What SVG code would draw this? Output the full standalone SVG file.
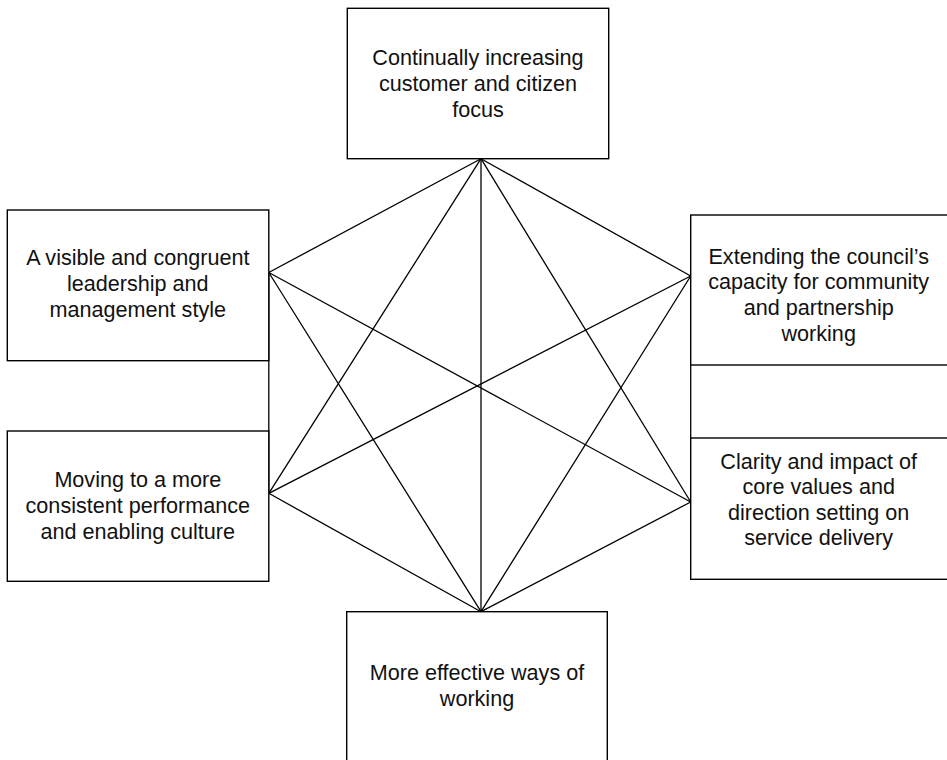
<svg xmlns="http://www.w3.org/2000/svg" width="947" height="760" viewBox="0 0 947 760">
<style>
.box{fill:#fff;stroke:#000;stroke-width:1.4}
.conn line{stroke:#000;stroke-width:1.3}
text{font-family:"Liberation Sans",Arial,Helvetica,sans-serif;font-size:21.6px;fill:#111;text-anchor:middle}
</style>
<rect width="947" height="760" fill="#fff"/>
<g id="connectors" class="conn">
<line x1="481" y1="158.7" x2="268.8" y2="272.5"/>
<line x1="481" y1="158.7" x2="690.7" y2="276"/>
<line x1="481" y1="158.7" x2="268.8" y2="493.3"/>
<line x1="481" y1="158.7" x2="690.7" y2="502"/>
<line x1="481" y1="158.7" x2="481" y2="611.7"/>
<line x1="268.8" y1="272.5" x2="481" y2="611.7"/>
<line x1="268.8" y1="272.5" x2="690.7" y2="502"/>
<line x1="268.8" y1="493.3" x2="481" y2="611.7"/>
<line x1="268.8" y1="493.3" x2="690.7" y2="276"/>
<line x1="690.7" y1="276" x2="481" y2="611.7"/>
<line x1="690.7" y1="502" x2="481" y2="611.7"/>
<line x1="268.8" y1="272.5" x2="268.8" y2="493.3"/>
<line x1="690.7" y1="276" x2="690.7" y2="502"/>
</g>
<g id="node-top">
<rect class="box" x="347.3" y="8.3" width="261.4" height="150.4"/>
<text x="478" y="65">Continually increasing</text>
<text x="478" y="91">customer and citizen</text>
<text x="478" y="116.7">focus</text>
</g>
<g id="node-left-upper">
<rect class="box" x="7.3" y="210" width="261.5" height="150.7"/>
<text x="137.8" y="265">A visible and congruent</text>
<text x="137.8" y="291">leadership and</text>
<text x="137.8" y="316.7">management style</text>
</g>
<g id="node-left-lower">
<rect class="box" x="7.3" y="431" width="261.5" height="150.3"/>
<text x="137.8" y="487">Moving to a more</text>
<text x="137.8" y="513">consistent performance</text>
<text x="137.8" y="538.5">and enabling culture</text>
</g>
<g id="node-right-upper">
<rect class="box" x="690.7" y="215" width="260" height="150"/>
<text x="818.7" y="263.5">Extending the council’s</text>
<text x="818.7" y="289.3">capacity for community</text>
<text x="818.7" y="315">and partnership</text>
<text x="818.7" y="340.5">working</text>
</g>
<g id="node-right-lower">
<rect class="box" x="690.7" y="438" width="260" height="141.3"/>
<text x="818.7" y="468.5">Clarity and impact of</text>
<text x="818.7" y="494">core values and</text>
<text x="818.7" y="519.7">direction setting on</text>
<text x="818.7" y="545.3">service delivery</text>
</g>
<g id="node-bottom">
<rect class="box" x="346.7" y="611.7" width="260.6" height="160"/>
<text x="477" y="680">More effective ways of</text>
<text x="477" y="706">working</text>
</g>
</svg>
